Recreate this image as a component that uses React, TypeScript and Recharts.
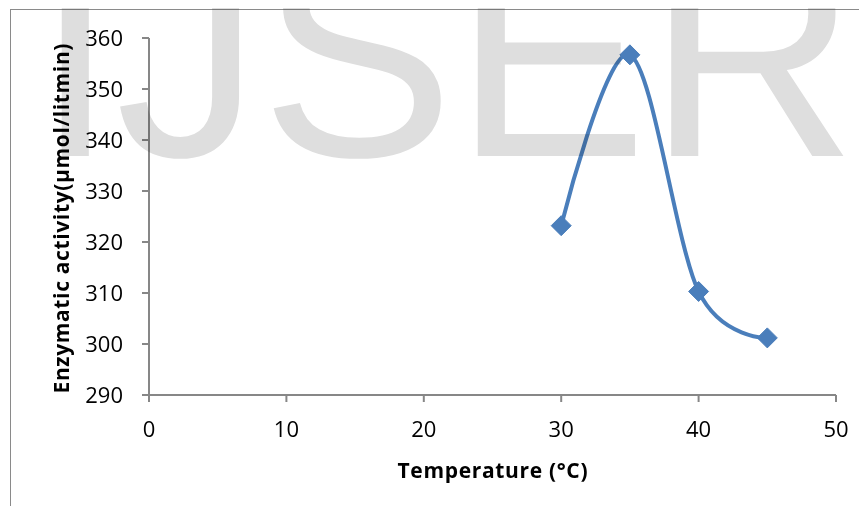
import React from "react";
import { LineChart, Line, XAxis, YAxis } from "recharts";

const temperatures = [30, 35, 40, 45];
const activity = [323.2, 356.7, 310.3, 301.2];
const xTicks = [0, 10, 20, 30, 40, 50];
const yTicks = [290, 300, 310, 320, 330, 340, 350, 360];
const xTitle = "Temperature (°C)";
const yTitle = "Enzymatic activity(µmol/litmin)";
const watermark = "IJSER";

const data = temperatures.map((t, i) => ({ temp: t, act: activity[i] }));

const BLUE = "#4a7ebb";
const AXIS = "#878787";
const FONT = "'Open Sans', 'Liberation Sans', sans-serif";

// Catmull-Rom style smoothing (similar to Excel's smoothed line)
function smoothCurve(context: any) {
  const k = 1 / 6;
  let x0 = NaN, y0 = NaN, x1 = NaN, y1 = NaN, x2 = NaN, y2 = NaN;
  let n = 0;
  let line: number = NaN;
  const seg = (x: number, y: number) => {
    context.bezierCurveTo(
      x1 + k * (x2 - x0),
      y1 + k * (y2 - y0),
      x2 + k * (x1 - x),
      y2 + k * (y1 - y),
      x2,
      y2
    );
  };
  return {
    areaStart() { line = 0; },
    areaEnd() { line = NaN; },
    lineStart() { x0 = x1 = x2 = y0 = y1 = y2 = NaN; n = 0; },
    lineEnd() {
      if (n === 2) context.lineTo(x2, y2);
      else if (n === 3) seg(x1, y1);
      if (line || (line !== 0 && n === 1)) context.closePath();
      line = 1 - line;
    },
    point(x: number, y: number) {
      x = +x; y = +y;
      if (n === 0) {
        n = 1;
        if (line) context.lineTo(x, y); else context.moveTo(x, y);
      } else if (n === 1) {
        n = 2; x1 = x; y1 = y;
      } else {
        n = 3; seg(x, y);
      }
      x0 = x1; x1 = x2; x2 = x;
      y0 = y1; y1 = y2; y2 = y;
    },
  };
}

const Diamond = (props: any) => {
  const { cx, cy, index } = props;
  if (cx == null || cy == null) return <g key={`d-${index}`} />;
  const r = 10;
  return (
    <path
      key={`d-${index}`}
      d={`M${cx},${cy - r}L${cx + r},${cy}L${cx},${cy + r}L${cx - r},${cy}Z`}
      fill={BLUE}
      stroke={BLUE}
      strokeWidth={1}
    />
  );
};

const XTitle = (props: any) => {
  const vb = props.viewBox || {};
  return (
    <text
      x={vb.x + vb.width / 2}
      y={vb.y + 83}
      textAnchor="middle"
      fontFamily={FONT}
      fontWeight="bold"
      fontSize={21}
      textLength={190}
      lengthAdjust="spacing"
      fill="#000"
    >
      {xTitle}
    </text>
  );
};

const YTitle = (props: any) => {
  const vb = props.viewBox || {};
  const x = vb.x + 69;
  const y = vb.y + vb.height / 2 + 2;
  return (
    <text
      x={x}
      y={y}
      transform={`rotate(-90, ${x}, ${y})`}
      textAnchor="middle"
      fontFamily={FONT}
      fontWeight="bold"
      fontSize={21}
      textLength={350}
      lengthAdjust="spacing"
      fill="#000"
    >
      {yTitle}
    </text>
  );
};

export default function App() {
  return (
    <div
      style={{
        position: "relative",
        width: 867,
        height: 514,
        margin: -8,
        overflow: "hidden",
        background: "#fff",
      }}
    >
      <div
        style={{
          position: "absolute",
          left: 10,
          top: 9,
          width: 1000,
          height: 700,
          borderLeft: "1px solid #8a8a8a",
          borderTop: "1px solid #8a8a8a",
        }}
      />
      <div style={{ position: "absolute", left: 0, top: 0 }}>
        <LineChart
          width={867}
          height={514}
          data={data}
          margin={{ top: 38, right: 31, bottom: 0, left: 0 }}
        >
          <XAxis
            type="number"
            dataKey="temp"
            domain={[0, 50]}
            ticks={xTicks}
            interval={0}
            height={119}
            tickSize={7}
            tickMargin={19}
            axisLine={{ stroke: AXIS, strokeWidth: 2 }}
            tickLine={{ stroke: AXIS, strokeWidth: 2 }}
            tick={{ fill: "#000", fontSize: 22, fontFamily: FONT }}
            label={<XTitle />}
          />
          <YAxis
            type="number"
            domain={[290, 360]}
            ticks={yTicks}
            interval={0}
            width={149}
            tickSize={7}
            tickMargin={19}
            axisLine={{ stroke: AXIS, strokeWidth: 2 }}
            tickLine={{ stroke: AXIS, strokeWidth: 2 }}
            tick={{ fill: "#000", fontSize: 22, fontFamily: FONT }}
            label={<YTitle />}
          />
          <Line
            dataKey="act"
            type={smoothCurve as any}
            stroke={BLUE}
            strokeWidth={4}
            dot={Diamond}
            activeDot={false}
            isAnimationActive={false}
          />
        </LineChart>
      </div>
      <svg
        width={867}
        height={514}
        style={{
          position: "absolute",
          left: 0,
          top: 0,
          pointerEvents: "none",
          mixBlendMode: "multiply",
        }}
      >
        <text
          x={35}
          y={156}
          fontFamily="'Liberation Sans', Arial, sans-serif"
          fontSize={290}
          fill="#dedede"
        >
          {watermark}
        </text>
      </svg>
    </div>
  );
}
